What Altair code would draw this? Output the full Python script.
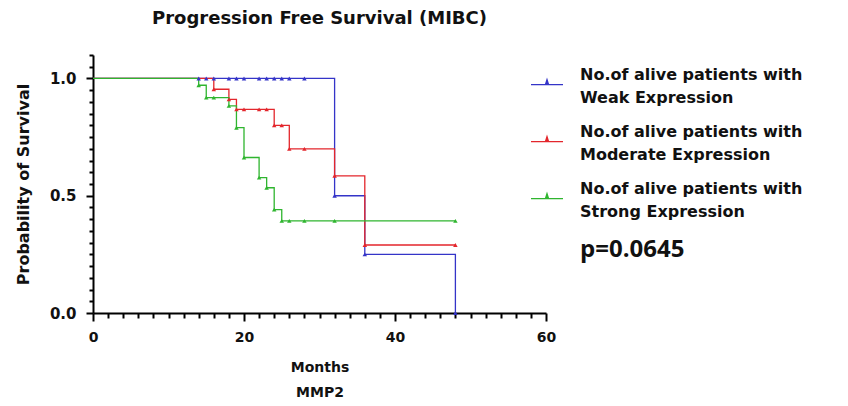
import altair as alt
import pandas as pd

# ---- data ----
groups = [
    "No.of alive patients with\nWeak Expression",
    "No.of alive patients with\nModerate Expression",
    "No.of alive patients with\nStrong Expression",
]
colors = ["#3434c8", "#e3262c", "#2fb52f"]

weak_months = [0, 14, 15, 16, 18, 19, 20, 22, 23, 24, 25, 26, 28, 32, 36, 48]
weak_surv = [1, 1, 1, 1, 1, 1, 1, 1, 1, 1, 1, 1, 1, 0.5, 0.25, 0]

mod_months = [0, 16, 18, 19, 20, 22, 23, 24, 25, 26, 28, 32, 36, 48]
mod_surv = [1, 0.954, 0.911, 0.868, 0.868, 0.868, 0.868, 0.80, 0.80, 0.70, 0.70, 0.585, 0.29, 0.29]

str_months = [0, 14, 15, 16, 18, 19, 20, 22, 23, 24, 25, 26, 28, 32, 48]
str_surv = [1, 0.971, 0.918, 0.918, 0.883, 0.79, 0.663, 0.577, 0.534, 0.441, 0.393, 0.393, 0.393, 0.393, 0.393]

x_tick_values = list(range(0, 62, 2))
y_tick_values = [round(i * 0.05, 2) for i in range(23)]
p_text = "p=0.0645"
title_text = "Progression Free Survival (MIBC)"

rows = []
for g, ms, ss in zip(groups, [weak_months, mod_months, str_months], [weak_surv, mod_surv, str_surv]):
    for m, s in zip(ms, ss):
        rows.append({"group": g, "month": m, "surv": s})
df = pd.DataFrame(rows)
pts = df[df["month"] > 0]

FONT = "DejaVu Sans"
Y_MAJOR = "abs(datum.value*2 - round(datum.value*2)) < 0.001"

x_enc = alt.X(
    "month:Q",
    scale=alt.Scale(domain=[0, 60], nice=False),
    axis=alt.Axis(
        values=x_tick_values,
        tickCount=100,
        format="d",
        labelOverlap=False,
        labelFlush=False,
        labelExpr="datum.value % 20 === 0 ? format(datum.value, 'd') : ''",
        tickSize={"condition": {"test": "datum.value % 20 === 0", "value": 8}, "value": 5},
        title=["Months", "MMP2"],
        titleLineHeight=25,
        titlePadding=16,
        labelPadding=9,
        labelFontSize=14,
        titleFontSize=14,
    ),
)
y_enc = alt.Y(
    "surv:Q",
    scale=alt.Scale(domain=[0, 1.1], nice=False),
    axis=alt.Axis(
        values=y_tick_values,
        tickCount=100,
        labelOverlap=False,
        labelFlush=False,
        labelExpr=Y_MAJOR + " ? format(datum.value, '.1f') : ''",
        tickSize={"condition": {"test": Y_MAJOR, "value": 7}, "value": 4},
        title="Probability of Survival",
        titlePadding=18,
        labelPadding=10,
        labelFontSize=15,
        titleFontSize=16,
    ),
)
color_enc = alt.Color(
    "group:N",
    scale=alt.Scale(domain=groups, range=colors),
    legend=alt.Legend(
        title=None,
        orient="none",
        legendX=437,
        legendY=3,
        symbolType="M-1,0.6L1,0.6M-0.1,0.6L0,0.28L0.1,0.6Z",
        symbolSize=1024,
        symbolStrokeWidth=1.2,
        labelFont=FONT,
        labelFontWeight="bold",
        labelFontSize=16,
        labelColor="#111111",
        labelExpr="split(datum.label, '\\n')",
        labelLimit=330,
        labelOffset=16,
        rowPadding=9,
    ),
)

lines = alt.Chart(df).mark_line(interpolate="step-after", strokeWidth=1.3).encode(
    x=x_enc, y=y_enc, color=color_enc
)
marks = alt.Chart(pts).mark_point(shape="triangle-up", filled=True, size=20, opacity=1).encode(
    x="month:Q", y="surv:Q", color=alt.Color("group:N", legend=None)
)
ptext = alt.Chart(pd.DataFrame({"t": [p_text]})).mark_text(
    align="left", baseline="middle", font="Open Sans", fontWeight="bold", fontSize=24, color="#111111"
).encode(x=alt.value(487), y=alt.value(195), text="t:N")

chart = (
    alt.layer(lines, marks, ptext)
    .properties(
        width=453,
        height=258,
        title=alt.TitleParams(title_text, fontSize=18, font=FONT, fontWeight="bold", offset=20, anchor="middle", color="#111111"),
        autosize=alt.AutoSizeParams(type="none"),
        padding={"left": 85, "top": 47, "right": 294, "bottom": 85},
    )
    .configure(style={"guide-label": {"lineHeight": 23}})
    .configure_view(stroke=None)
    .configure_axis(
        grid=False,
        domainColor="#000000",
        domainWidth=2,
        tickColor="#000000",
        tickWidth=2,
        labelFont=FONT,
        labelFontWeight="bold",
        labelColor="#111111",
        titleFont=FONT,
        titleFontWeight="bold",
        titleColor="#111111",
    )
)

chart.save("out.html", embed_options={"renderer": "svg", "actions": False})
